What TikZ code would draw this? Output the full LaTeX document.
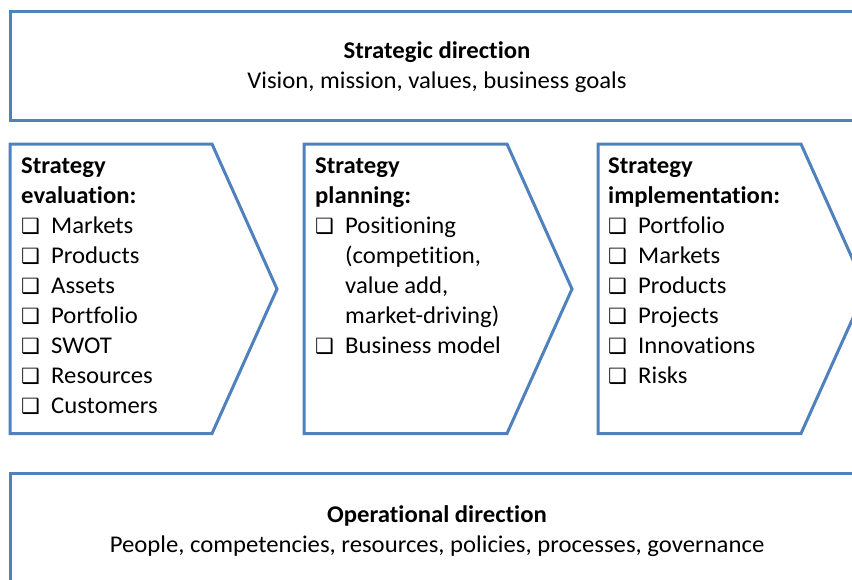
\documentclass[tikz,border=0pt]{standalone}
\usepackage{fontspec}
\setmainfont{Carlito}[FakeStretch=1.03, Ligatures={NoCommon}]
\newfontfamily\symfont{DejaVu Sans Bold}
\definecolor{frameblue}{HTML}{4F81BD}
% checkbox bullet and the indent used by continuation lines
\newcommand{\cbox}{\makebox[30pt][l]{\symfont\fontsize{21}{30}\selectfont ❑}}
\newcommand{\cindent}{\hspace*{30pt}}
\tikzset{
  frame/.style={draw=frameblue, line width=3pt, line join=miter},
  % anchored at the baseline of the last line of the block
  listtext/.style={anchor=base west, inner sep=0pt, align=left,
    font=\fontsize{24}{30}\selectfont},
  bandtext/.style={anchor=base, inner sep=0pt, font=\fontsize{24}{30}\selectfont},
}
\begin{document}
\begin{tikzpicture}[x=1pt, y=-1pt]
\useasboundingbox (0,0) rectangle (852,579);
\fill[white] (0,0) rectangle (852,579);

% strategic band
\draw[frame] (10,11.5) rectangle (870,120.5);
\node[bandtext, font=\fontsize{24}{30}\selectfont\bfseries] (sdtitle) at (437,58) {Strategic direction};
\node[bandtext] (sdtext) at (437,88) {Vision, mission, values, business goals};

% three chevrons
\draw[frame] (10,144) -- (212,144) -- (277,289) -- (212,433.5) -- (10,433.5) -- cycle;
\draw[frame] (304,144) -- (507,144) -- (572,289) -- (507,433.5) -- (304,433.5) -- cycle;
\draw[frame] (598,144) -- (801,144) -- (866,289) -- (801,433.5) -- (598,433.5) -- cycle;

\node[listtext] (eval) at (21,413) {\textbf{Strategy}\\
  \textbf{evaluation:}\\
  \cbox Markets\\
  \cbox Products\\
  \cbox Assets\\
  \cbox Portfolio\\
  \cbox SWOT\\
  \cbox Resources\\
  \cbox Customers};

\node[listtext] (plan) at (315,353) {\textbf{Strategy}\\
  \textbf{planning:}\\
  \cbox Positioning\\
  \cindent(competition,\\
  \cindent value add,\\
  \cindent market-driving)\\
  \cbox Business model};

\node[listtext] (impl) at (608,383) {\textbf{Strategy}\\
  \textbf{implementation:}\\
  \cbox Portfolio\\
  \cbox Markets\\
  \cbox Products\\
  \cbox Projects\\
  \cbox Innovations\\
  \cbox Risks};

% operational band
\draw[frame] (10,473) rectangle (870,600);
\node[bandtext, font=\fontsize{24}{30}\selectfont\bfseries] (odtitle) at (437,522) {Operational direction};
\node[bandtext] (odtext) at (437,552) {People, competencies, resources, policies, processes, governance};
\end{tikzpicture}
\end{document}
